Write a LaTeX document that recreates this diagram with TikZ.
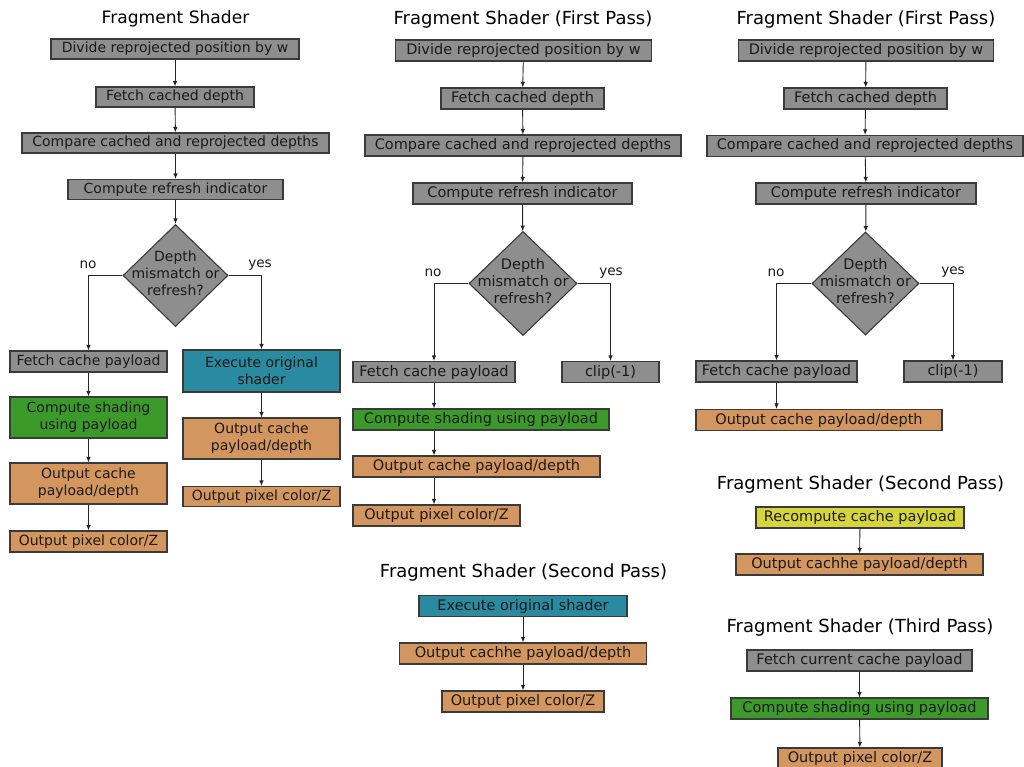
\documentclass[tikz,border=0pt]{standalone}
\usepackage{fontspec}
\setmainfont{DejaVu Sans}
\usetikzlibrary{shapes.geometric,arrows.meta}
\definecolor{gbox}{HTML}{8E8E8E}
\definecolor{grn}{HTML}{3C9A2A}
\definecolor{teal}{HTML}{2A8AA0}
\definecolor{tan}{HTML}{D4965F}
\definecolor{yel}{HTML}{D6D63C}
\definecolor{bord}{HTML}{3A3A3A}
\definecolor{txt}{HTML}{1A1A1A}
\tikzset{
  bx/.style={draw=bord, line width=1.1pt, inner sep=0pt, text=txt, align=center},
  fa/.style={font=\fontsize{14.0}{17}\selectfont},
  fb/.style={font=\fontsize{14.5}{17}\selectfont},
  ta/.style={font=\fontsize{17.1}{20}\selectfont, text=black},
  tb/.style={font=\fontsize{18.0}{20}\selectfont, text=black},
  lab/.style={font=\fontsize{13.6}{16}\selectfont, text=txt},
  gb/.style={bx, fill=gbox},
  gr/.style={bx, fill=grn},
  tl/.style={bx, fill=teal},
  tn/.style={bx, fill=tan},
  yl/.style={bx, fill=yel},
  decision/.style={draw=bord, line width=1.1pt, fill=gbox, shape=diamond, inner sep=0pt, minimum width=105, minimum height=102},
  arr/.style={draw=black!85, line width=0.9pt, -{Latex[length=5.5pt,width=4.5pt]}},
}
\begin{document}
\begin{tikzpicture}[x=1pt,y=-1pt]
\useasboundingbox (0,0) rectangle (1024,767);

% ---------- Column 1 ----------
\node[ta] (t1) at (175.5,19) {Fragment Shader};
\node[gb,fa,minimum width=248,minimum height=20] (a1) at (175,49) {Divide reprojected position by w};
\node[gb,fa,minimum width=158,minimum height=20] (a2) at (175,97) {Fetch cached depth};
\node[gb,fa,minimum width=307,minimum height=20] (a3) at (175.5,143) {Compare cached and reprojected depths};
\node[gb,fa,minimum width=215,minimum height=20] (a4) at (175.5,189.5) {Compute refresh indicator};
\node[decision] (ad) at (175.5,275.5) {};
\node[fa,text=txt,align=center] (adt) at (175.5,273) {Depth\\mismatch or\\refresh?};
\node[lab] (an) at (88,265) {no};
\node[lab] (ay) at (260,265) {yes};
\node[gb,fa,minimum width=157,minimum height=21] (a5) at (88.5,361.5) {Fetch cache payload};
\node[tl,fa,minimum width=157,minimum height=42] (a6) at (261.5,371) {Execute original\\shader};
\node[gr,fa,minimum width=157,minimum height=41] (a7) at (88.5,417.5) {Compute shading\\using payload};
\node[tn,fa,minimum width=157,minimum height=41] (a8) at (88.5,483.5) {Output cache\\payload/depth};
\node[tn,fa,minimum width=157,minimum height=21] (a9) at (88.5,541.5) {Output pixel color/Z};
\node[tn,fa,minimum width=157,minimum height=41] (a10) at (261.5,438.5) {Output cache\\payload/depth};
\node[tn,fa,minimum width=157,minimum height=20] (a11) at (261.5,496.5) {Output pixel color/Z};
\draw[arr] (a1) -- (a2);
\draw[arr] (a2) -- (a3);
\draw[arr] (a3) -- (a4);
\draw[arr] (a4) -- (ad);
\draw[arr] (ad.west) -| (a5.north);
\draw[arr] (ad.east) -| (a6.north);
\draw[arr] (a5) -- (a7);
\draw[arr] (a7) -- (a8);
\draw[arr] (a8) -- (a9);
\draw[arr] (a6) -- (a10);
\draw[arr] (a10) -- (a11);

% ---------- Column 2 ----------
\node[tb] (t2) at (523,20) {Fragment Shader (First Pass)};
\node[gb,fb,minimum width=256,minimum height=21] (b1) at (523.5,50.5) {Divide reprojected position by w};
\node[gb,fb,minimum width=163,minimum height=21] (b2) at (522.5,98.5) {Fetch cached depth};
\node[gb,fb,minimum width=316,minimum height=21] (b3) at (523,145.5) {Compare cached and reprojected depths};
\node[gb,fb,minimum width=219,minimum height=21] (b4) at (522.5,193.5) {Compute refresh indicator};
\node[decision,minimum width=108,minimum height=104] (bd) at (523,283.5) {};
\node[fb,text=txt,align=center] (bdt) at (523,281) {Depth\\mismatch or\\refresh?};
\node[lab] (bn) at (433,273) {no};
\node[lab] (by) at (611,273) {yes};
\node[gb,fb,minimum width=162,minimum height=21] (b5) at (434,372) {Fetch cache payload};
\node[gb,fb,minimum width=97,minimum height=21] (b6) at (610.5,372) {clip(-1)};
\node[gr,fb,minimum width=256,minimum height=21] (b7) at (481,419.5) {Compute shading using payload};
\node[tn,fb,minimum width=247,minimum height=21] (b8) at (476.5,466.5) {Output cache payload/depth};
\node[tn,fb,minimum width=167,minimum height=21] (b9) at (436.5,515.5) {Output pixel color/Z};
\draw[arr] (b1) -- (b2);
\draw[arr] (b2) -- (b3);
\draw[arr] (b3) -- (b4);
\draw[arr] (b4) -- (bd);
\draw[arr] (bd.west) -| (b5.north);
\draw[arr] (bd.east) -| (b6.north);
\draw[arr] (b5.south) -- (b5.south |- b7.north);
\draw[arr] (b5.south |- b7.south) -- (b5.south |- b8.north);
\draw[arr] (b5.south |- b8.south) -- (b5.south |- b9.north);

\node[tb] (t3) at (523.5,572.5) {Fragment Shader (Second Pass)};
\node[tl,fb,minimum width=208,minimum height=21] (c1) at (523,606) {Execute original shader};
\node[tn,fb,minimum width=247,minimum height=21] (c2) at (523,653.5) {Output cachhe payload/depth};
\node[tn,fb,minimum width=162,minimum height=21] (c3) at (523,701.5) {Output pixel color/Z};
\draw[arr] (c1) -- (c2);
\draw[arr] (c2) -- (c3);

% ---------- Column 3 ----------
\node[tb] (t4) at (866,20) {Fragment Shader (First Pass)};
\node[gb,fb,minimum width=255,minimum height=21] (d1) at (866,50.5) {Divide reprojected position by w};
\node[gb,fb,minimum width=163,minimum height=21] (d2) at (865.5,98.5) {Fetch cached depth};
\node[gb,fb,minimum width=316,minimum height=21] (d3) at (865,146) {Compare cached and reprojected depths};
\node[gb,fb,minimum width=220,minimum height=21] (d4) at (866,193.5) {Compute refresh indicator};
\node[decision,minimum width=107,minimum height=103] (dd) at (865.5,283.5) {};
\node[fb,text=txt,align=center] (ddt) at (865.5,281) {Depth\\mismatch or\\refresh?};
\node[lab] (dn) at (776,273) {no};
\node[lab] (dy) at (953,272) {yes};
\node[gb,fb,minimum width=161,minimum height=21] (d5) at (776.5,371.5) {Fetch cache payload};
\node[gb,fb,minimum width=98,minimum height=21] (d6) at (953,371.5) {clip(-1)};
\node[tn,fb,minimum width=246,minimum height=21] (d7) at (819,420) {Output cache payload/depth};
\draw[arr] (d1) -- (d2);
\draw[arr] (d2) -- (d3);
\draw[arr] (d3) -- (d4);
\draw[arr] (d4) -- (dd);
\draw[arr] (dd.west) -| (d5.north);
\draw[arr] (dd.east) -| (d6.north);
\draw[arr] (d5.south) -- (d5.south |- d7.north);

\node[tb] (t5) at (860.5,485) {Fragment Shader (Second Pass)};
\node[yl,fb,minimum width=208,minimum height=21] (e1) at (860,517.5) {Recompute cache payload};
\node[tn,fb,minimum width=247,minimum height=21] (e2) at (859.5,564.5) {Output cachhe payload/depth};
\draw[arr] (e1) -- (e2);

\node[tb] (t6) at (860,628) {Fragment Shader (Third Pass)};
\node[gb,fb,minimum width=225,minimum height=21] (f1) at (859.5,660.5) {Fetch current cache payload};
\node[gr,fb,minimum width=257,minimum height=21] (f2) at (859.5,708.5) {Compute shading using payload};
\node[tn,fb,minimum width=164,minimum height=21] (f3) at (860,758.5) {Output pixel color/Z};
\draw[arr] (f1) -- (f2);
\draw[arr] (f2) -- (f3);
\end{tikzpicture}
\end{document}
